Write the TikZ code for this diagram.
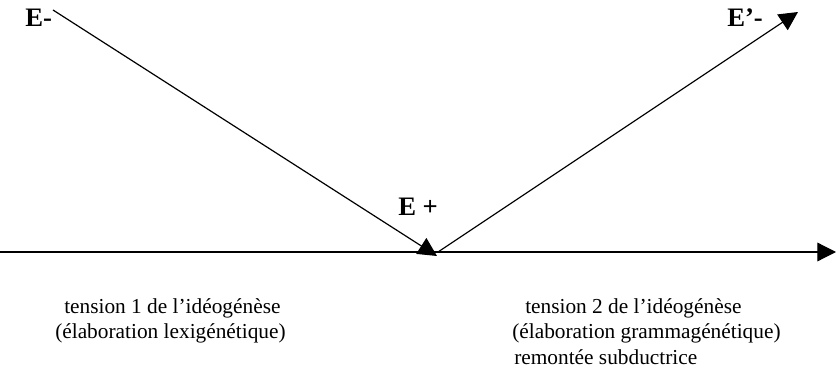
\documentclass[tikz,border=0pt]{standalone}
\usepackage{fontspec}
\setmainfont{Liberation Serif}
\usetikzlibrary{arrows.meta}

\tikzset{
  axe/.style={line width=0.9pt, -{Triangle[length=14pt,width=14pt]}},
  pole/.style={font=\fontsize{20}{24}\selectfont\bfseries, inner sep=0pt, anchor=base west},
  legende/.style={font=\fontsize{16}{19}\selectfont, inner sep=0pt, anchor=base west}
}

\begin{document}
\begin{tikzpicture}[x=0.75pt, y=-0.75pt]
        \useasboundingbox (0,0) rectangle (836,374);

        \node[pole] (emoins) at (25,27) {E-};
        \node[pole] (eprime) at (727,27) {E’-};
        \node[pole] (eplus) at (398,216) {E +};

        \coordinate (gauche) at (0,252);
        \coordinate (droite) at (836,252);
        \coordinate (haut1) at (53,10);
        \coordinate (bas) at (437,256);
        \coordinate (depart) at (438,252);
        \coordinate (haut2) at (798,12);

        \draw[axe] (gauche) -- (droite);
        \draw[axe] (haut1) -- (bas);
        \draw[axe] (depart) -- (haut2);

        \node[legende] (t1) at (64,314) {tension 1 de l’idéogénèse};
        \node[legende] (t1b) at (55,339) {(élaboration lexigénétique)};

        \node[legende] (t2) at (525,314) {tension 2 de l’idéogénèse};
        \node[legende] (t2b) at (512,339) {(élaboration grammagénétique)};
        \node[legende] (t2c) at (514,364) {remontée subductrice};
    \end{tikzpicture}
\end{document}
